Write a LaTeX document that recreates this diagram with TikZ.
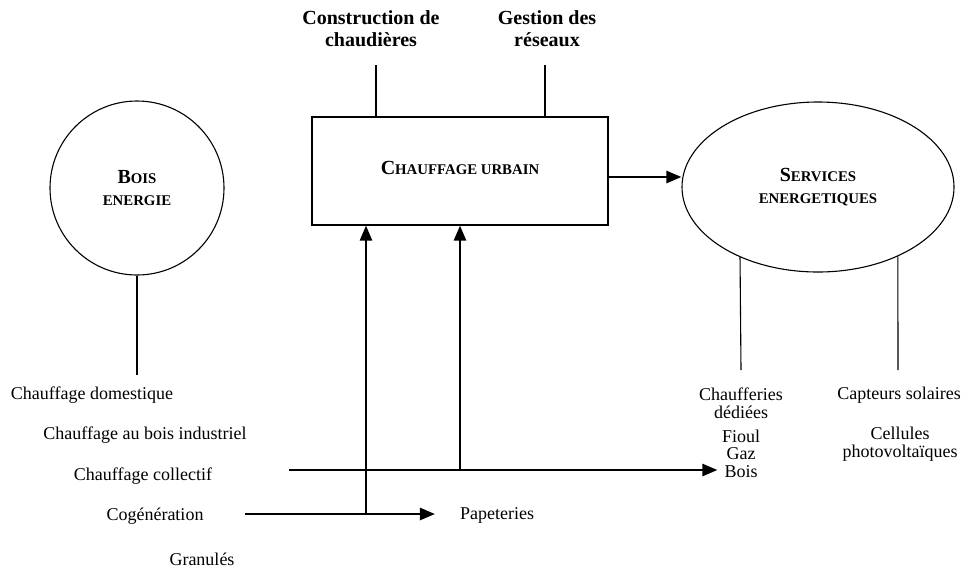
\documentclass[tikz,border=0pt]{standalone}
\usepackage{fontspec}
\setmainfont{Liberation Serif}
\usetikzlibrary{arrows.meta,shapes.geometric}
\newcommand{\petit}[1]{{\fontsize{7.4}{9}\selectfont #1}}

\begin{document}
\begin{tikzpicture}[x=0.5pt, y=-0.5pt, font=\fontsize{9}{9}\selectfont,
    flux/.style={-{Triangle[length=7.5pt,width=6pt]}, line width=1.25pt},
    trait/.style={line width=0.55pt},
    titre/.style={font=\bfseries\fontsize{10}{11}\selectfont, align=center}]
        \useasboundingbox (0,0) rectangle (972,569);

        % Bois energie
        \node[draw, trait, circle, minimum size=87pt, inner sep=0pt, titre] (bois) at (137,188) {B\petit{OIS}\\\petit{ENERGIE}};

        % Chauffage urbain
        \node[draw, trait, rectangle, minimum width=148pt, minimum height=54pt, titre] (urbain) at (460,171) {\raisebox{3pt}{C\petit{HAUFFAGE URBAIN}}};
        \node[titre] (constr) at (371,29) {Construction de\\chaudières};
        \node[titre] (gestion) at (547,29) {Gestion des\\réseaux};

        % Services energetiques
        \node[draw, trait, ellipse, minimum width=136pt, minimum height=85pt, inner sep=0pt, titre] (services) at (818,187) {S\petit{ERVICES}\\\petit{ENERGETIQUES}};

        % Textes du bas a gauche
        \node (domestique) at (92,395) {Chauffage domestique};
        \node (industriel) at (145,435) {Chauffage au bois industriel};
        \node (collectif) at (143,476) {Chauffage collectif};
        \node (cogen) at (155,516) {Cogénération};
        \node (granules) at (202,559) {Granulés};
        \node (pap) at (497,515) {Papeteries};

        % Textes du bas a droite
        \node[align=center] (chaufferies) at (741,403) {Chaufferies\\dédiées};
        \node (fioul) at (741,436) {Fioul};
        \node (gaz) at (741,454) {Gaz};
        \node (boisr) at (741,472) {Bois};
        \node (capteurs) at (899,395) {Capteurs solaires};
        \node[align=center] (cellules) at (900,444) {Cellules\\photovoltaïques};

        % Traits
        \coordinate (c1) at (376,65);
        \coordinate (c2) at (545,65);
        \coordinate (b1) at (137,375);
        \coordinate (s1) at (741,370);
        \coordinate (s2) at (898,370);
        \draw[trait] (c1) -- (c1 |- urbain.north);
        \draw[trait] (c2) -- (c2 |- urbain.north);
        \draw[trait] (bois.south) -- (b1);
        \draw[trait] (services.222.3) -- (s1);
        \draw[trait] (services.319.35) -- (s2);

        % Fleches
        \coordinate (coll) at (289,470);
        \coordinate (cog) at (245,514);
        \coordinate (j1) at (366,514);
        \coordinate (j2) at (460,470);
        \draw[flux] ([yshift=-3pt]urbain.east) -- ([yshift=-3pt]urbain.east -| services.west);
        \draw[flux] (coll) -- (boisr.west |- coll);
        \draw[flux] (cog) -- ([xshift=-9pt]pap.west |- cog);
        \draw[flux] (j1) -- (j1 |- urbain.south);
        \draw[flux] (j2) -- (j2 |- urbain.south);
    \end{tikzpicture}
\end{document}
